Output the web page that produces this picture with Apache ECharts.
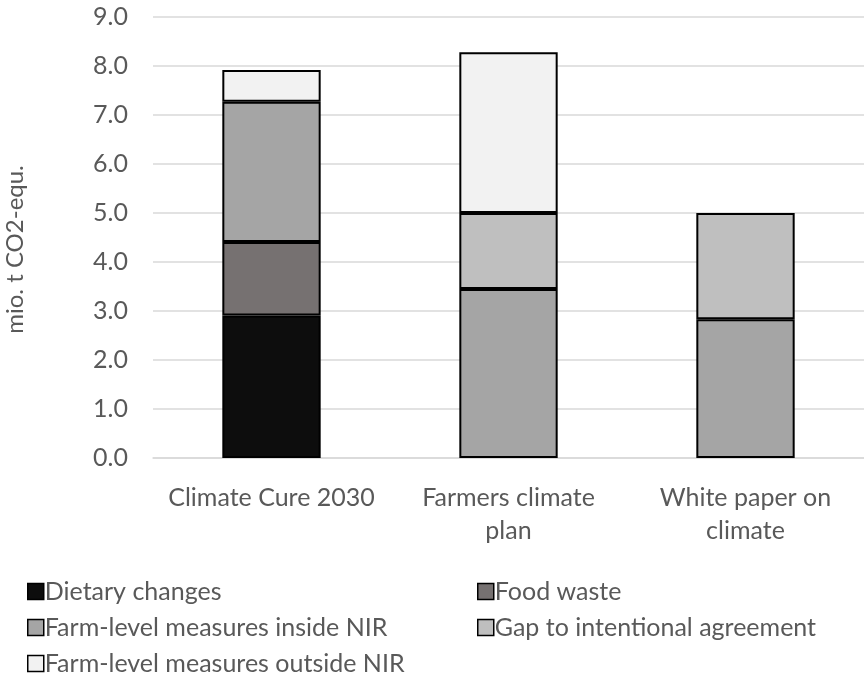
<!DOCTYPE html>
<html>
<head>
<meta charset="utf-8">
<script src="https://cdn.jsdelivr.net/npm/echarts@6/dist/echarts.min.js"></script>
<style>
html,body{margin:0;padding:0;background:#fff;}
#chart{width:864px;height:677px;}
</style>
</head>
<body>
<div id="chart"></div>
<script>
const categories = ['Climate Cure 2030', 'Farmers climate\nplan', 'White paper on\nclimate'];
const dietaryChanges = [2.91, null, null];
const foodWaste = [1.50, null, null];
const farmInsideNIR = [2.86, 3.45, 2.83];
const gapAgreement = [null, 1.55, 2.17];
const farmOutsideNIR = [0.65, 3.28, null];
const yTicks = [0, 9, 1];
const seriesNames = ['Dietary changes', 'Food waste', 'Farm-level measures inside NIR', 'Gap to intentional agreement', 'Farm-level measures outside NIR'];

const FONT = 'Lato';
const TXT = '#595959';
const colors = ['#0d0d0d', '#767171', '#a5a5a5', '#bfbfbf', '#f2f2f2'];
const datas = [dietaryChanges, foodWaste, farmInsideNIR, gapAgreement, farmOutsideNIR];

const chart = echarts.init(document.getElementById('chart'));
const legendBase = {
  orient: 'vertical',
  itemWidth: 16, itemHeight: 16, itemGap: 11, icon: 'rect',
  height: 120,
  textStyle: {fontFamily: FONT, fontSize: 25, color: TXT, padding: [0,0,0,-4]},
  itemStyle: {borderColor: '#000', borderWidth: 1.5}
};
chart.setOption({
  animation: false,
  textStyle: {fontFamily: FONT},
  grid: {left: 153, right: 0, top: 17, bottom: 219, containLabel: false, outerBoundsMode: 'none'},
  legend: [
    Object.assign({}, legendBase, {left: 22, top: 574, data: [seriesNames[0], seriesNames[2], seriesNames[4]]}),
    Object.assign({}, legendBase, {left: 472, top: 574, data: [seriesNames[1], seriesNames[3]]})
  ],
  xAxis: {
    type: 'category', data: categories,
    axisLine: {lineStyle: {color: '#d9d9d9', width: 1.5}},
    axisTick: {show: false},
    axisLabel: {fontFamily: FONT, fontSize: 25, color: TXT, margin: 23, lineHeight: 33, interval: 0}
  },
  yAxis: {
    type: 'value', min: yTicks[0], max: yTicks[1], interval: yTicks[2],
    name: 'mio. t CO2-equ.', nameLocation: 'middle', nameGap: 126,
    nameTextStyle: {fontFamily: FONT, fontSize: 24, color: TXT, padding: [0, 24, 0, 0]},
    axisLine: {show: false}, axisTick: {show: false},
    splitLine: {lineStyle: {color: '#d9d9d9', width: 1.5}},
    axisLabel: {fontFamily: FONT, fontSize: 25, color: TXT, margin: 25, formatter: v => v.toFixed(1)}
  },
  series: seriesNames.map((n, i) => ({
    name: n, type: 'bar', stack: 'total', barWidth: '41.5%',
    data: datas[i],
    itemStyle: {color: colors[i], borderColor: '#000', borderWidth: 2}
  }))
});
</script>
</body>
</html>
